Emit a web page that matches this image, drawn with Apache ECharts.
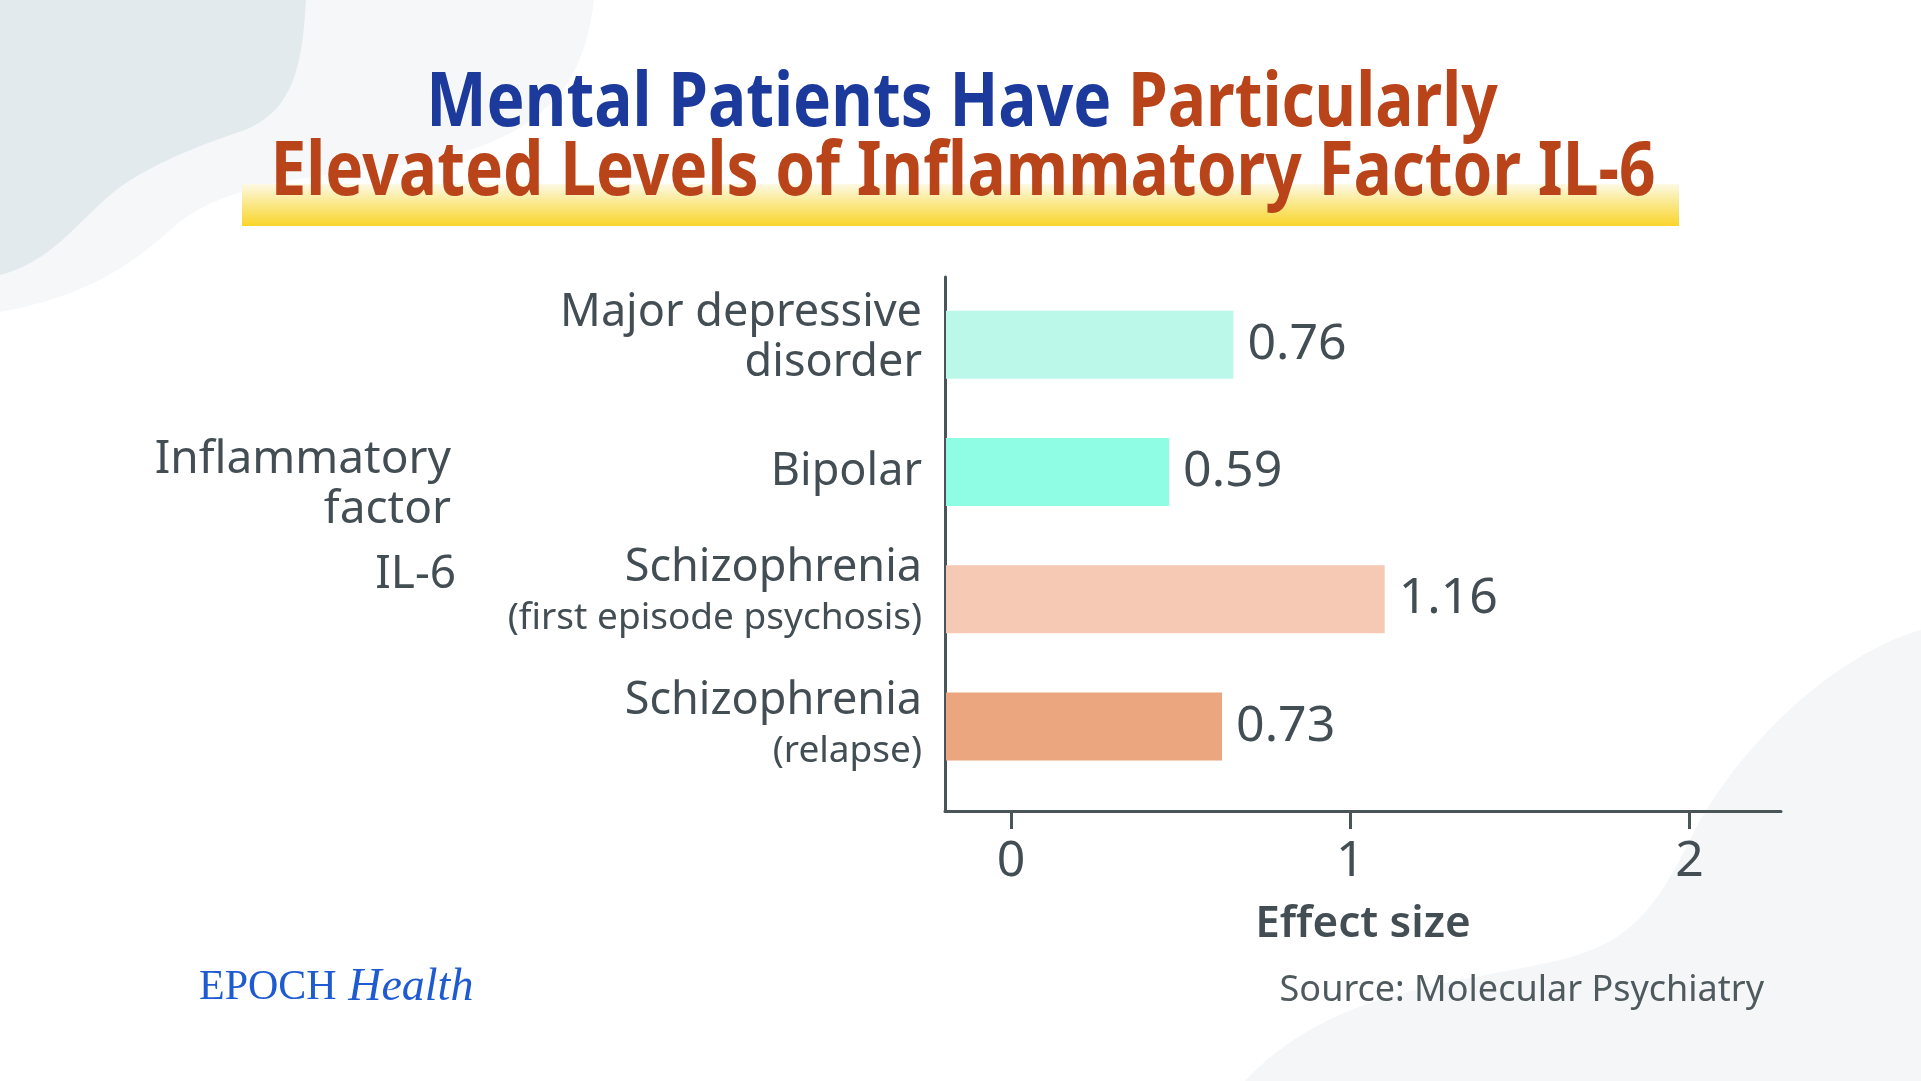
<!DOCTYPE html>
<html>
<head>
<meta charset="utf-8">
<script src="https://cdn.jsdelivr.net/npm/echarts@6/dist/echarts.min.js"></script>
<style>
html,body{margin:0;padding:0;background:#ffffff;}
#chart{width:1921px;height:1081px;}
</style>
</head>
<body>
<div id="chart"></div>
<script>
// ---- data ----
const categories = ['Major depressive disorder', 'Bipolar', 'Schizophrenia (first episode psychosis)', 'Schizophrenia (relapse)'];
const labelMain = ['Major depressive\ndisorder', 'Bipolar', 'Schizophrenia', 'Schizophrenia'];
const labelSub = ['', '', '(first episode psychosis)', '(relapse)'];
const effectSizes = [0.76, 0.59, 1.16, 0.73];
const barColors = ['#bbf8ea', '#8efde3', '#f5c9b4', '#eba57f'];
const tickValues = [0, 1, 2];
const titleLine1Blue = 'Mental Patients Have ';
const titleLine1Orange = 'Particularly';
const titleLine2 = 'Elevated Levels of Inflammatory Factor IL-6';
const sideLabel = 'Inflammatory\nfactor';
const sideLabel2 = 'IL-6';
const axisName = 'Effect size';
const sourceText = 'Source: Molecular Psychiatry';

const TXT = '#434e54';

// decorative background shapes: start point + cubic segments, sampled into polygons
function bezierShape(start, segs, tail) {
  const pts = [start];
  let p0 = start;
  segs.forEach(s => {
    const [c1, c2, p3] = s;
    for (let k = 1; k <= 24; k++) {
      const t = k / 24, u = 1 - t;
      pts.push([
        u*u*u*p0[0] + 3*u*u*t*c1[0] + 3*u*t*t*c2[0] + t*t*t*p3[0],
        u*u*u*p0[1] + 3*u*u*t*c1[1] + 3*u*t*t*c2[1] + t*t*t*p3[1]
      ]);
    }
    p0 = p3;
  });
  return pts.concat(tail);
}
const lightBlob = bezierShape([594, 0], [
  [[585, 70], [560, 120], [470, 150]],
  [[380, 180], [240, 165], [170, 230]],
  [[130, 265], [90, 295], [0, 312]]
], [[0, 0]]);
const darkBlob = bezierShape([306, 0], [
  [[302, 70], [292, 110], [245, 130]],
  [[185, 150], [140, 170], [110, 195]],
  [[75, 225], [50, 262], [0, 275]]
], [[0, 0]]);
const cornerBlob = bezierShape([1921, 630], [
  [[1850, 650], [1760, 720], [1700, 820]],
  [[1660, 900], [1640, 940], [1560, 960]],
  [[1450, 985], [1330, 990], [1245, 1081]]
], [[1921, 1081]]);

const chart = echarts.init(document.getElementById('chart'), null, {renderer: 'canvas'});

const option = {
  backgroundColor: '#ffffff',
  animation: false,
  textStyle: {fontFamily: 'Noto Sans'},
  grid: [
    {left: 946, right: 140, top: 281, bottom: 291},
    {left: 945, right: 140, top: 277, bottom: 270}
  ],
  xAxis: [
    {gridIndex: 0, type: 'value', min: 0, max: 2.208, show: false},
    {
      gridIndex: 1, type: 'value', min: -0.195, max: 2.27,
      axisLine: {show: true, onZero: false, lineStyle: {color: '#4a5559', width: 3}},
      axisTick: {show: true, length: 18, lineStyle: {color: '#4a5559', width: 3}, customValues: tickValues},
      axisLabel: {show: true, customValues: tickValues, fontSize: 50, lineHeight: 50, margin: 26, color: TXT, fontFamily: 'Noto Sans'},
      splitLine: {show: false},
      name: axisName, nameLocation: 'middle', nameGap: 88,
      nameTextStyle: {fontSize: 44, lineHeight: 50, fontWeight: 600, color: TXT, fontFamily: 'Noto Sans'}
    }
  ],
  yAxis: [
    {
      gridIndex: 0, type: 'category', inverse: true,
      data: categories.map((c, i) => ({value: c, textStyle: {padding: (i === 0 || i === 2) ? [0, 0, 12, 0] : 0}})),
      axisLine: {show: false}, axisTick: {show: false}, splitLine: {show: false},
      axisLabel: {
        show: true, margin: 24, color: TXT, align: 'right',
        formatter: function (v, i) {
          const main = labelMain[i].split('\n').map(s => '{m|' + s + '}').join('\n');
          return labelSub[i] ? main + '\n{s|' + labelSub[i] + '}' : main;
        },
        rich: {
          m: {fontSize: 45, lineHeight: 50, color: TXT, align: 'right', fontFamily: 'Noto Sans'},
          s: {fontSize: 37, lineHeight: 50, color: TXT, align: 'right', fontFamily: 'Noto Sans'}
        }
      }
    },
    {
      gridIndex: 1, type: 'value', min: 0, max: 1,
      axisLine: {show: true, onZero: false, lineStyle: {color: '#4a5559', width: 3}},
      axisTick: {show: false}, axisLabel: {show: false}, splitLine: {show: false}
    }
  ],
  series: [{
    type: 'bar', xAxisIndex: 0, yAxisIndex: 0,
    data: effectSizes.map((v, i) => ({value: v, itemStyle: {color: barColors[i]}})),
    barWidth: 68,
    label: {show: true, position: 'right', distance: 14, fontSize: 50, color: TXT, fontFamily: 'Noto Sans',
      formatter: p => p.value.toFixed(2)},
    z: 2
  }],
  graphic: [
    {type: 'polygon', z: -10, shape: {points: lightBlob}, style: {fill: '#f5f7f8'}},
    {type: 'polygon', z: -9, shape: {points: darkBlob}, style: {fill: '#e3eaee'}},
    {type: 'polygon', z: -10, shape: {points: cornerBlob}, style: {fill: '#f4f6f8'}},
    {type: 'rect', z: -5, shape: {x: 242, y: 184, width: 1437, height: 42},
      style: {fill: {type: 'linear', x: 0, y: 0, x2: 0, y2: 1, colorStops: [
        {offset: 0, color: '#fdf9e4'}, {offset: 0.5, color: '#fae784'}, {offset: 1, color: '#f9d52a'}]}}},
    {type: 'text', x: 962, y: 105, scaleX: 0.853, z: 10,
      style: {text: '{b|' + titleLine1Blue + '}{o|' + titleLine1Orange + '}', align: 'center', verticalAlign: 'middle',
        font: 'bold 75px "Noto Sans"',
        rich: {b: {fill: '#1b3a9c', fontSize: 75, fontWeight: 'bold', fontFamily: 'Noto Sans'},
               o: {fill: '#b9441a', fontSize: 75, fontWeight: 'bold', fontFamily: 'Noto Sans'}}}},
    {type: 'text', x: 963, y: 174, scaleX: 0.853, z: 10,
      style: {text: titleLine2, align: 'center', verticalAlign: 'middle', fill: '#b9441a',
        font: 'bold 75px "Noto Sans"'}},
    {type: 'text', x: 451, y: 485, z: 10,
      style: {text: sideLabel, align: 'right', verticalAlign: 'middle', fill: TXT, font: '46px "Noto Sans"', lineHeight: 50}},
    {type: 'text', x: 456, y: 575, z: 10,
      style: {text: sideLabel2, align: 'right', verticalAlign: 'middle', fill: TXT, font: '46px "Noto Sans"'}},
    {type: 'text', x: 1764, y: 991, z: 10,
      style: {text: sourceText, align: 'right', verticalAlign: 'middle', fill: '#4f5a5f', font: '36px "Noto Sans"'}},
    {type: 'text', x: 199, y: 988, z: 10,
      style: {text: '{e|EPOCH}{h| Health}', align: 'left', verticalAlign: 'middle',
        rich: {e: {fill: '#1f5bd0', fontSize: 42, fontFamily: 'Liberation Serif'},
               h: {fill: '#1f5bd0', fontSize: 46, fontStyle: 'italic', fontFamily: 'Liberation Serif'}}}}
  ]
};
chart.setOption(option);
</script>
</body>
</html>
